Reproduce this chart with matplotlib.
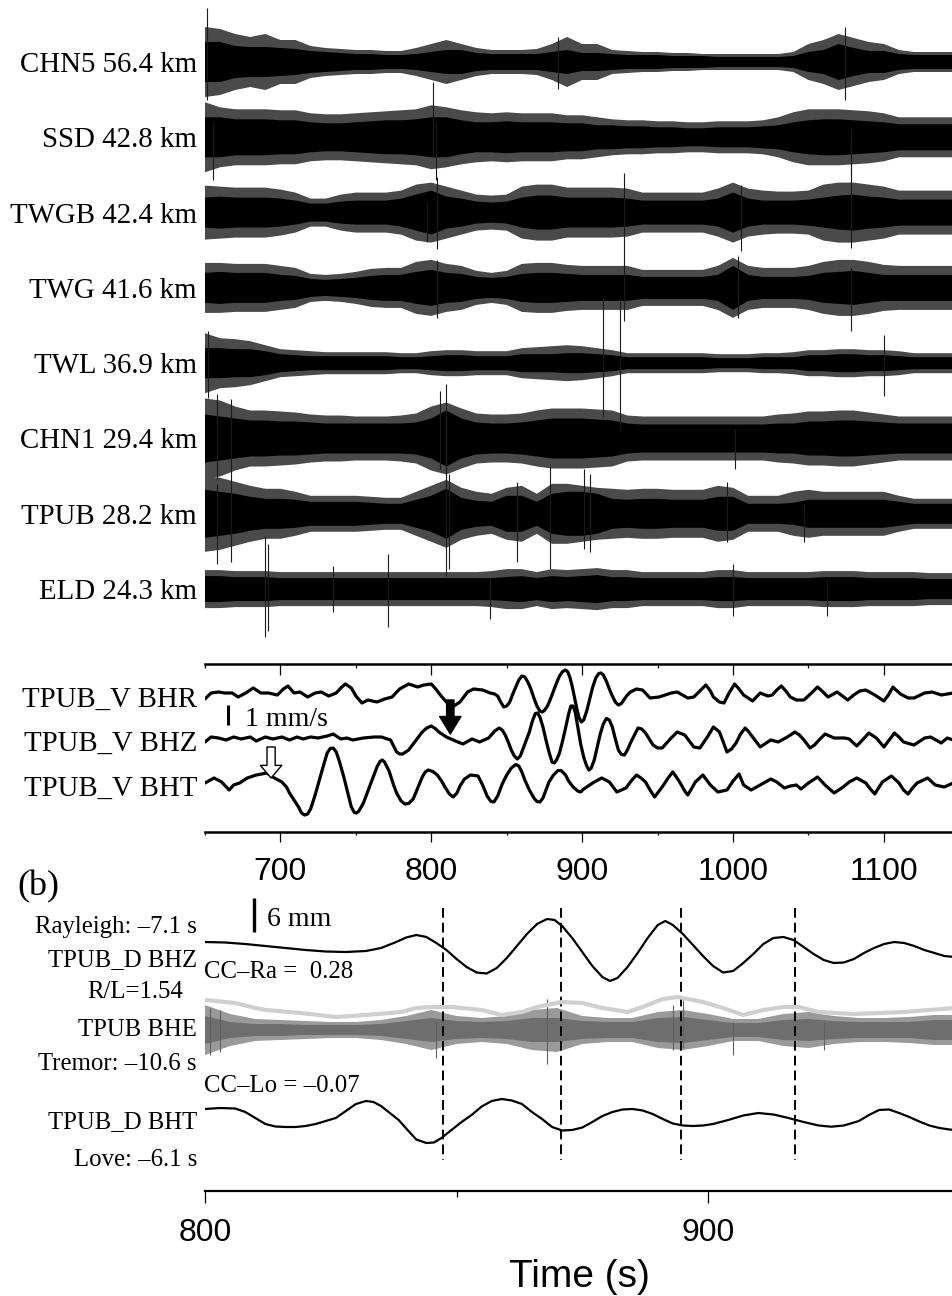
import numpy as np
import matplotlib
matplotlib.use('Agg')
import matplotlib.pyplot as plt
from matplotlib.ticker import MultipleLocator

W, H, DPI = 953, 1296, 100
SERIF = ['Liberation Serif', 'DejaVu Serif']
SANS = ['Liberation Sans', 'DejaVu Sans']
plt.rcParams['font.family'] = SERIF
plt.rcParams['hatch.linewidth'] = 0.5

# ---------------------------------------------------------------- data
# (a) top: tremor envelopes read every 10 s (half-amplitudes, px-like units)
STATIONS = ['CHN5 56.4 km', 'SSD 42.8 km', 'TWGB 42.4 km', 'TWG 41.6 km',
            'TWL 36.9 km', 'CHN1 29.4 km', 'TPUB 28.2 km', 'ELD 24.3 km']
ENV_T = list(range(650, 1151, 10))

CHN5_CORE = [20,20,16,15,15,14,13,11,10,9, 8,8,7,7,8,10,12,12,9,8,
             8,8,8,10,12,9,9,8,7,7, 7,6,6,6,5,5,5,5,5,6,
             10,12,18,14,11,11,8,7,7,7, 7]
CHN5_OUTER = [35,33,28,25,28,22,22,16,14,13, 12,12,11,11,14,18,22,18,14,12,
              12,12,13,18,25,18,18,12,11,10, 10,9,9,8,8,8,8,8,8,10,
              18,22,28,24,20,18,12,10,10,10, 10]
SSD_CORE = [20,20,18,18,18,17,17,15,14,14, 15,16,17,17,18,20,20,17,15,15,
            16,15,15,15,14,14,12,12,11,11, 10,10,9,9,10,10,10,11,12,15,
            17,18,18,17,16,15,13,13,13,13, 13]
SSD_OUTER = [35,30,28,28,28,27,27,24,23,23, 24,25,26,27,28,32,30,27,25,24,
             25,24,24,24,22,22,20,18,17,17, 16,16,15,15,16,16,16,17,20,25,
             28,28,28,27,26,24,20,20,20,20, 20]
TWGB_CORE = [15,16,15,15,15,14,12,9,9,11, 12,12,12,14,18,22,16,14,11,10,
             11,15,17,17,15,15,15,15,14,12, 12,12,12,12,14,20,14,12,12,12,
             13,15,17,18,16,15,13,13,13,13, 13]
TWGB_OUTER = [27,26,25,25,25,23,20,14,14,18, 20,20,20,22,28,30,26,22,18,17,
              18,26,28,28,25,25,25,25,24,20, 20,20,20,20,24,30,24,22,21,21,
              22,28,30,30,28,26,22,22,22,22, 22]
TWG_CORE = [15,16,15,15,15,13,12,9,8,9, 10,12,13,13,16,18,15,14,11,10,
            11,14,15,15,14,13,13,13,13,11, 11,11,11,11,13,22,13,11,11,11,
            12,15,16,17,15,13,13,13,13,13, 13]
TWG_OUTER = [25,25,24,24,24,22,20,14,13,14, 16,19,20,20,26,28,24,22,17,15,
             17,24,25,25,23,22,22,22,22,18, 18,18,18,18,22,30,22,20,20,20,
             22,26,28,28,26,23,22,22,22,22, 22]
TWL_CORE = [15,15,14,14,12,9,8,7,7,7, 7,7,7,6,6,7,8,8,7,7,
            7,9,9,9,10,10,9,8,6,6, 6,6,6,6,5,5,5,6,6,6,
            8,8,9,9,8,8,7,6,6,6, 6]
TWL_OUTER = [30,25,24,22,18,14,13,12,11,11, 11,11,11,10,10,12,13,13,12,12,
             12,15,16,17,18,17,15,13,10,10, 10,10,10,10,9,9,9,10,10,11,
             13,13,14,14,13,13,12,10,10,10, 10]
CHN1_CORE = [24,22,20,18,18,17,17,16,15,15, 15,15,15,15,16,20,28,20,16,15,
             15,16,18,20,20,20,19,18,15,14, 14,14,14,14,14,14,14,14,15,15,
             17,17,18,18,17,16,15,15,15,15, 15]
CHN1_OUTER = [40,38,32,28,28,27,26,24,23,23, 22,22,22,23,25,32,36,30,25,24,
              24,25,28,30,30,30,29,28,23,22, 22,22,22,22,22,22,22,22,24,25,
              27,27,28,28,26,24,22,22,22,22, 22]
TPUB_CORE = [24,22,20,17,15,15,14,12,12,12, 12,11,10,10,14,18,25,16,13,12,
             18,18,12,20,22,22,20,15,14,15, 15,14,14,14,17,17,10,10,10,11,
             14,14,14,14,14,14,12,10,10,10, 10]
TPUB_OUTER = [38,36,32,28,25,25,22,18,18,18, 18,17,16,16,22,28,34,26,22,20,
              26,28,20,30,30,28,26,25,24,25, 25,24,24,24,28,26,18,18,18,22,
              24,22,22,22,22,22,18,15,15,15, 15]
ELD_CORE = [13,13,12,12,12,11,11,11,11,11, 11,11,11,11,11,11,11,11,11,11,
            12,13,11,13,12,13,14,12,12,11, 11,11,11,11,12,12,11,11,11,11,
            11,12,12,12,11,11,11,11,10,10, 10]
ELD_OUTER = [19,19,18,18,18,17,17,17,17,17, 17,17,17,17,17,17,17,17,17,18,
             20,20,17,20,19,20,21,19,19,17, 17,17,17,17,19,19,17,17,17,17,
             17,18,18,18,17,17,17,17,16,16, 16]

# isolated spikes: (time s, extent up, extent down)
CHN5_SPIKES = [(651, 54, 38), (884, 25, 27), (1074, 35, 38)]
SSD_SPIKES = [(655, 15, 43), (801, 55, 20), (803, 15, 43), (1078, 10, 40)]
TWGB_SPIKES = [(797, 10, 29), (804, 36, 36), (928, 40, 108), (1005, 28, 38), (1078, 72, 35)]
TWG_SPIKES = [(804, 28, 30), (1003, 32, 30), (1078, 20, 43)]
TWL_SPIKES = [(652, 32, 35), (914, 65, 54), (925, 62, 67), (1100, 28, 33)]
CHN1_SPIKES = [(658, 45, 40), (667, 40, 45), (806, 48, 30), (810, 55, 40), (1001, 10, 30)]
TPUB_SPIKES = [(658, 30, 50), (667, 30, 48), (810, 47, 62), (812, 40, 55), (857, 32, 48),
               (879, 48, 55), (901, 45, 35), (905, 40, 38), (996, 32, 28), (1047, 10, 28)]
ELD_SPIKES = [(690, 53, 48), (692, 45, 42), (735, 23, 23), (771, 35, 38),
              (839, 10, 30), (1000, 25, 27), (1062, 10, 27)]

# middle: TPUB_V velocity (time s, amplitude; 20 units = 1 mm/s)
MID_LABELS = ['TPUB_V BHR', 'TPUB_V BHZ', 'TPUB_V BHT']
BHR = [(650,-5),(654,1),(659,2),(663,1),(668,1),(672,-3),(677,1),(682,6),(687,1),(692,1),
       (698,-1),(702,5),(705,8),(709,1),(713,2),(718,-3),(723,1),(727,2),(732,-2),(737,1),
       (740,6),(743,10),(747,6),(750,-2),(754,-9),(758,-6),(764,-8),(769,-5),(774,-3),(779,5),
       (785,10),(791,7),(795,9),(800,10),(803,5),(806,-1),(810,-8),(815,-12),(819,-8),(824,2),
       (828,5),(834,4),(839,1),(842,0),(844,-2),(846,-8),(848,-13),(850,-12),(852,-8),(854,0),
       (856,7),(858,14),(860,18),(862,17),(864,12),(866,5),(868,-4),(870,-12),(872,-17),(873.5,-18),
       (875,-16.5),(877,-12),(879,-5),(881,3),(883,11),(885,18),(887,22.5),(889,24),(890.5,22),(892,16),
       (893.5,7),(895,-4),(896.5,-15),(898,-24),(899.5,-28),(901,-26),(903,-17),(905,-5),(907,7),(909,16),
       (911,20.5),(912.5,21),(914,19),(916,13),(918,5),(920,-2),(922,-8),(924,-11),(926,-9.5),(928,-5),
       (930,-1),(932,2),(936,5),(940,4),(945,-4),(951,-3),(959,1),(963,2),(970,-4),(974,-3),
       (978,3),(982,9),(985,3),(987,-3),(991,-8),(994,-9),(997,0),(1001,10),(1004,5),(1007,-1),
       (1013,-7),(1018,1),(1023,-2),(1026,-1),(1029,4),(1032,8),(1035,3),(1038,-3),(1042,-6),(1047,-6),
       (1052,1),(1056,7),(1059,3),(1063,-3),(1069,2),(1076,-6),(1080,-1),(1084,3),(1088,4),(1094,-1),
       (1100,-7),(1103,-1),(1106,7),(1108,4),(1111,0),(1116,-4),(1120,-4),(1127,1),(1132,2),(1138,-1),
       (1146,1)]
BHZ = [(650,-4),(654,1),(659,0),(664,-2),(669,1),(674,-1),(680,1),(684,-3),(690,1),(695,-1),
       (701,1),(706,-2),(711,1),(715,-1),(720,1),(725,0),(731,2),(735,4),(740,-1),(744,0),
       (748,-2),(755,0),(762,1),(767,1),(773,-2),(775,-8),(777,-14),(779,-16),(781,-16),(785,-12),
       (788,-6),(790,-2),(794,6),(797,10),(800,12),(803,9),(805,6),(810,1),(816,-3),(821,-6),
       (827,-1),(832,-4),(838,0),(842,7),(845,10),(847,8),(849,3),(851,-4),(853,-12),(855,-18),
       (857,-21),(859,-18),(861,-10),(863,-2),(865,6),(867,17),(869,24.5),(870.5,25),(872,21),(874,11),
       (876,-2),(878,-14),(880,-24),(881.5,-25),(883,-22),(885,-15),(887,-3),(889,10),(891,24),(892.5,32),
       (894,32),(895.5,25),(897,12),(899,-6),(901,-19),(903,-28),(904.5,-32),(906,-30),(908,-22),(910,-9),
       (912,4),(914,14),(916,19.5),(918,18),(920,11),(922,-1),(924,-12),(926,-16.5),(928,-17),(930,-12),
       (932,-5),(935,4),(937,10),(939.5,9),(942,5),(947,-7),(950,-10),(953,-10),(956,-5),(959,0),
       (963,6),(968,3),(974,-9),(978,-10),(983,1),(987,11),(991,6),(994,-6),(996,-14),(999,-11),
       (1002,-5),(1005,4),(1008,10),(1010,7),(1013,1),(1018,-9),(1021,-6),(1025,-2),(1030,-4),(1036,1),
       (1041,6),(1044,3),(1047,-2),(1051,-10),(1054,-7),(1057,-2),(1061,4),(1067,0),(1074,0),(1077,-1),
       (1082,-8),(1087,0),(1090,5),(1095,0),(1100,-9),(1103,-3),(1107,5),(1110,1),(1113,-4),(1120,-7),
       (1127,0),(1131,1),(1138,-5),(1142,0),(1146,-2)]
BHT = [(650,0),(656,5),(661,1),(666,-7),(669,-2),(673,0),(678,5),(684,8),(691,10),(696,5),
       (701,1),(704,-4),(706,-10),(709,-17),(712,-24),(714,-30),(716,-32),(718,-31),(720,-26),(723,-12),
       (726,4),(729,20),(731,30),(733,34.5),(735,35),(737,31),(739,22),(742,6),(745,-12),(747,-24),
       (749,-29.5),(750.5,-30),(752,-28),(755,-20),(758,-8),(761,4),(764,16),(766,21.5),(767.5,23),(769,21),
       (772,12),(775,-2),(777,-10),(780,-18),(782.5,-21),(785,-20.5),(788,-16),(791,-5),(794,6),(796,11),
       (798,13),(801,11.5),(804,8),(807,1.5),(809,-4),(812,-11),(814.5,-14),(817,-10),(819,-3),(822,4),
       (826,8),(831,7),(834,-2),(837,-13),(839.5,-18.5),(841.5,-19),(844,-13),(847,-1),(850,8),(853,15),
       (856,18.5),(858,17),(860,11),(862,3),(865,-7),(868,-15),(870,-18.5),(872,-19),(874,-15),(876,-7),
       (878,1),(881,8),(884,12.5),(886,12.5),(889,8),(891,2),(894,-4),(897,-8),(899,-9),(901,-6),
       (908,1),(913,5),(918,1),(923,-9),(929,-5),(933,3),(936,8),(939,5),(942,1),(945,-7),
       (948,-14),(950,-10),(953,-4),(957,5),(960,11),(962,7),(965,0),(968,-8),(970,-12),(972,-7),
       (975,1),(980,8),(985,-2),(990,-9),(996,-7),(1000,2),(1004,9),(1007,-2),(1012,-7),(1018,-2),
       (1025,4),(1029,1),(1034,-5),(1038,-3),(1042,-2),(1045,-6),(1050,0),(1056,6),(1061,-2),(1067,-10),
       (1073,-4),(1077,1),(1082,5),(1088,0),(1091,-6),(1094,-11),(1096,-6),(1099,1),(1105,7),(1110,0),
       (1113,-7),(1116,-11),(1119,-5),(1122,0),(1129,5),(1134,-2),(1140,-4),(1146,0)]
MID_SCALE = 20          # amplitude units per 1 mm/s
ARROW_FILLED_T = 812.6  # s
ARROW_OPEN_T = 693.8    # s

# (b) bottom: displacement (34 units = 6 mm)
BHZD = [(800,8),(804,7.5),(808,6),(812,4),(816,2),(820,0),(824,-1.5),(828,-2),(832,-1),(835,2),
        (838,8),(840,12.5),(842,15),(844,13),(846,7),(848,0),(850,-9),(852,-17),(854,-22.5),(856,-23.5),
        (858,-18),(860,-8),(862,4),(864,16),(866,26),(868,31),(869.5,30),(871,24),(873,12),(875,-2),
        (877,-16),(879,-27),(880.5,-31),(882,-28),(884,-17),(886,-3),(888,12),(890,25),(891.5,29),(893,25),
        (895,16),(897,5),(899,-6),(901,-16),(903,-22.5),(905,-21),(907,-13),(909,-4),(911,6),(913,12),
        (915,13),(917,10),(919,3),(921,-4),(923,-10),(925,-13),(927,-12.5),(929,-9),(931,-3),(933,2),
        (935,6),(937,8),(939,7),(941,4),(943,0),(945,-3),(947,-6),(949,-7)]
BHTD = [(800,11),(803,12),(806,11.5),(808,8),(810,2),(812,-4),(814,-6.5),(816,-7),(818,-7),(820,-6),
        (822,-4),(824,-1),(826,2),(828,9),(830,16),(832,19),(833.5,18),(835,14),(837,6),(838.5,0),
        (840,-8.5),(842,-19.5),(844,-23),(845.5,-22.5),(847,-18),(849,-10),(851,-2),(853,5),(855,13.5),(857,19),
        (859,21),(861,19.5),(863,16),(865,8),(867,1),(869,-7),(871,-10.5),(873,-10),(875,-7.5),(877,-2),
        (879,4),(881,8),(883,10.5),(885,11),(887,9.5),(889,6),(891,1),(893,-3.5),(895,-5.5),(897,-6),
        (899,-5.5),(901,-4),(904,0),(907,4.5),(910,7),(913,5.5),(916,2),(919,-2),(922,-5.5),(924.5,-6.7),
        (927,-5.5),(930,-1),(932,5),(934,10),(936,10.5),(938,7),(940,3),(942,-1.5),(944,-5.5),(946,-8),
        (948,-9.5),(949,-10)]
BHE_T = list(range(800, 951, 5))
BHE_CORE = [14,8,6,6,5,5,5,6,9,12, 9,8,9,12,12,9,8,8,12,13,
            10,7,7,10,11,9,8,8,8,10, 10]
BHE_OUTER = [25,16,11,10,9,8,8,10,14,20, 14,12,14,20,22,14,12,12,18,20,
             16,11,11,16,18,14,12,12,13,15, 15]
BHE_SPIKES = [(801,22,25),(803,20,22),(846,8,28),(868,31,34),(893,25,20),
              (895,30,18),(905,8,25),(923,8,20)]
BHE_ENV = [(800,30),(806,27),(810,22),(812,20),(819,17),(826,13),(832,15),(839,18),(842,22),(845,23),
           (849,23),(855,20),(859,15),(863,18),(866,23),(871,28),(875,27),(879,22),(884,18),(887,23),
           (891,31),(894,33),(899,28),(903,22),(907,15),(911,20),(915,23),(918,23),(922,18),(929,16),
           (939,18),(949,22)]
DASH_T = [847.3, 870.8, 894.6, 917.3]
BOT_SCALE = 34          # amplitude units per 6 mm

# ---------------------------------------------------------------- figure
fig = plt.figure(figsize=(W / DPI, H / DPI), dpi=DPI)


def box(x0, y0, x1, y1):
    return [x0 / W, 1 - y1 / H, (x1 - x0) / W, (y1 - y0) / H]


def ftext(x, y, s, **kw):
    kw.setdefault('va', 'center_baseline')
    return fig.text(x / W, 1 - y / H, s, **kw)


def curve(ax, pairs, row, **kw):
    t, a = np.array(pairs, float).T
    ax.plot(t, row - a, solid_joinstyle='round', solid_capstyle='round', **kw)


# ---- top panel
ax1 = fig.add_axes(box(205, 0, 953, 652))
ax1.set_xlim(650, 1145.8)
ax1.set_ylim(652, 0)
ax1.axis('off')
top = [(CHN5_CORE, CHN5_OUTER, CHN5_SPIKES), (SSD_CORE, SSD_OUTER, SSD_SPIKES),
       (TWGB_CORE, TWGB_OUTER, TWGB_SPIKES), (TWG_CORE, TWG_OUTER, TWG_SPIKES),
       (TWL_CORE, TWL_OUTER, TWL_SPIKES), (CHN1_CORE, CHN1_OUTER, CHN1_SPIKES),
       (TPUB_CORE, TPUB_OUTER, TPUB_SPIKES), (ELD_CORE, ELD_OUTER, ELD_SPIKES)]
te = np.array(ENV_T, float)
for k, (name, (core, outer, spikes)) in enumerate(zip(STATIONS, top)):
    base = 62 + 75.3 * k
    core = np.array(core, float)
    outer = np.array(outer, float)
    ax1.fill_between(te, base - outer, base + outer, facecolor='none',
                     edgecolor='#4a4a4a', hatch='|' * 25, lw=0)
    ax1.fill_between(te, base - core, base + core, facecolor='black', lw=0)
    for ts, up, dn in spikes:
        ax1.vlines(ts, base - up, base + dn, color='#1a1a1a', lw=0.8)
    ftext(197, base, name, ha='right', fontsize=20.8)

# ---- middle panel
ax2 = fig.add_axes(box(205, 664, 953, 832))
ax2.set_xlim(650, 1145.8)
ax2.set_ylim(832, 664)
for s in ['left', 'right', 'top']:
    ax2.spines[s].set_visible(False)
ax2.spines['bottom'].set_linewidth(1.8)
ax2.set_yticks([])
ax2.xaxis.set_major_locator(MultipleLocator(100))
ax2.xaxis.set_minor_locator(MultipleLocator(50))
ax2.tick_params(axis='x', which='major', direction='out', length=7.2, width=0.9,
                labelsize=23, pad=10.5, labelfontfamily='Liberation Sans')
ax2.tick_params(axis='x', which='minor', direction='out', length=2.2, width=0.9)
sec = ax2.secondary_xaxis('top')
sec.xaxis.set_major_locator(MultipleLocator(100))
sec.xaxis.set_minor_locator(MultipleLocator(50))
sec.tick_params(axis='x', which='major', direction='in', length=8, width=0.9, labeltop=False)
sec.tick_params(axis='x', which='minor', direction='in', length=3, width=0.9)
sec.spines['top'].set_linewidth(1.8)

mid_rows = [694, 738, 783]
mid_label_rows = [697, 741, 786]
for pairs, row, lab, lrow in zip([BHR, BHZ, BHT], mid_rows, MID_LABELS, mid_label_rows):
    curve(ax2, pairs, row, color='black', lw=2.3)
    ftext(197, lrow, lab, ha='right', fontsize=20.8)

ax2.plot([665.3, 665.3], [705, 705 + MID_SCALE], color='black', lw=2.2,
         solid_capstyle='butt')
ftext(245, 716, '1 mm/s', ha='left', fontsize=20)

ax2.annotate('', xy=(ARROW_FILLED_T, 734), xytext=(ARROW_FILLED_T, 700),
             arrowprops=dict(arrowstyle='simple,head_length=0.9,head_width=1.1,tail_width=0.38',
                             mutation_scale=14, facecolor='black', edgecolor='black',
                             shrinkA=0, shrinkB=0))
ax2.annotate('', xy=(ARROW_OPEN_T, 778), xytext=(ARROW_OPEN_T, 747),
             arrowprops=dict(arrowstyle='simple,head_length=0.65,head_width=1.1,tail_width=0.42',
                             mutation_scale=14, facecolor='white', edgecolor='black', lw=1.0,
                             shrinkA=0, shrinkB=0))

# ---- bottom panel (b)
ax3 = fig.add_axes(box(205, 895, 953, 1191))
ax3.set_xlim(800, 948.7)
ax3.set_ylim(1191, 895)
for s in ['left', 'right', 'top']:
    ax3.spines[s].set_visible(False)
ax3.spines['bottom'].set_linewidth(1.6)
ax3.set_yticks([])
ax3.xaxis.set_major_locator(MultipleLocator(100))
ax3.xaxis.set_minor_locator(MultipleLocator(50))
ax3.tick_params(axis='x', which='major', direction='out', length=8.6, width=0.9,
                labelsize=23, pad=10.5, labelfontfamily='Liberation Sans')
ax3.tick_params(axis='x', which='minor', direction='out', length=4.3, width=0.9)
ax3.set_xlabel('Time (s)', fontsize=28, family=SANS, labelpad=8)

# dashed alignment lines
ax3.vlines(DASH_T, 908, 1160, colors='black', linestyles=(0, (5, 2.6)), lw=1.4)

# BHE tremor (grey) with envelope
BHE_ROW = 1030
tb = np.array(BHE_T, float)
bo = np.array(BHE_OUTER, float)
bc = np.array(BHE_CORE, float)
ax3.fill_between(tb, BHE_ROW - bo, BHE_ROW + bo, facecolor='none',
                 edgecolor='#9a9a9a', hatch='|' * 25, lw=0)
ax3.fill_between(tb, BHE_ROW - bc, BHE_ROW + bc, facecolor='#6e6e6e', lw=0)
for ts, up, dn in BHE_SPIKES:
    ax3.vlines(ts, BHE_ROW - up, BHE_ROW + dn, color='#606060', lw=0.8)
curve(ax3, BHE_ENV, BHE_ROW, color='#cfcfcf', lw=3.0)

curve(ax3, BHZD, 950, color='black', lw=1.6)
curve(ax3, BHTD, 1120, color='black', lw=1.6)

ax3.plot([809.7, 809.7], [898, 898 + BOT_SCALE], color='black', lw=2.4,
         solid_capstyle='butt')
ftext(267, 917, '6 mm', ha='left', fontsize=20)

ftext(17, 883, '(b)', ha='left', fontsize=26)
ftext(197, 924, 'Rayleigh: \u20137.1 s', ha='right', fontsize=17.8)
ftext(197, 958, 'TPUB_D BHZ', ha='right', fontsize=17.8)
ftext(204, 970, 'CC\u2013Ra =  0.28', ha='left', fontsize=17.8)
ftext(135, 990, 'R/L=1.54', ha='center', fontsize=17.8)
ftext(197, 1028, 'TPUB BHE', ha='right', fontsize=17.8)
ftext(197, 1062, 'Tremor: \u201310.6 s', ha='right', fontsize=17.8)
ftext(204, 1083, 'CC\u2013Lo = \u20130.07', ha='left', fontsize=17.8)
ftext(197, 1120, 'TPUB_D BHT', ha='right', fontsize=17.8)
ftext(197, 1157, 'Love: \u20136.1 s', ha='right', fontsize=17.8)

fig.savefig('out.png', dpi=DPI)
